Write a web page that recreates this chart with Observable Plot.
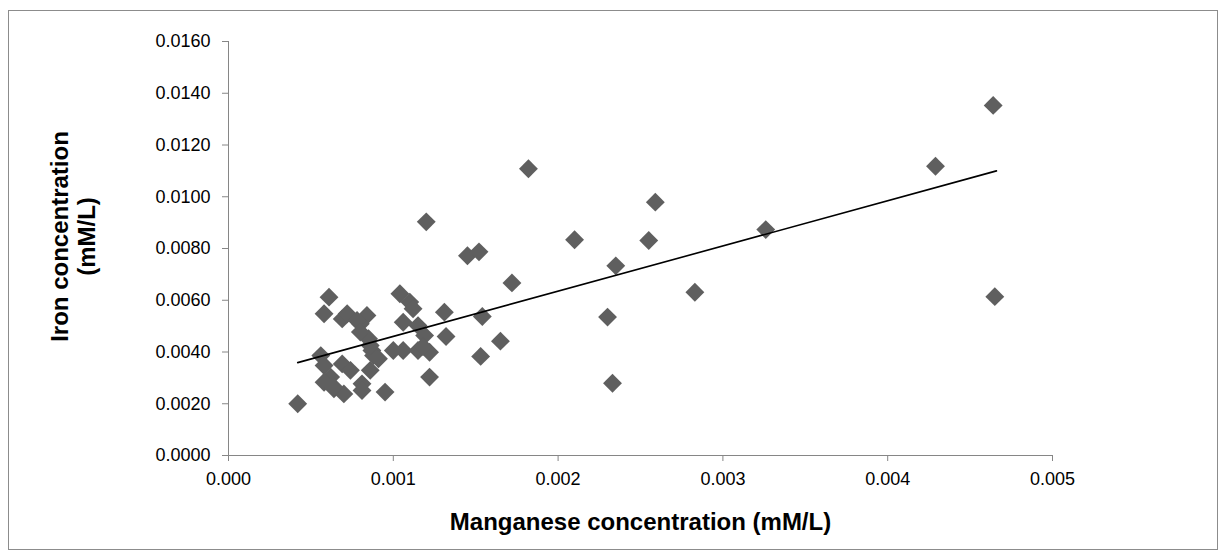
<!DOCTYPE html>
<html>
<head>
<meta charset="utf-8">
<script src="https://cdn.jsdelivr.net/npm/d3@7"></script>
<script src="https://cdn.jsdelivr.net/npm/@observablehq/plot@0.6"></script>
<style>
  html, body { margin: 0; padding: 0; background: #fff; }
  #wrap { position: relative; width: 1228px; height: 558px; }
  #border { position: absolute; left: 8px; top: 10px; width: 1210px; height: 540px; border: 1px solid #8c8c8c; box-sizing: border-box; pointer-events: none; }
  svg g[aria-label$="axis tick"] { stroke: #868686; }
</style>
</head>
<body>
<div id="wrap"><div id="border"></div></div>
<script>
// Manganese concentration (mM/L)
const mn = [
  0.00464, 0.00465, 0.00429, 0.00326, 0.00259, 0.00210, 0.00255, 0.00235,
  0.00283, 0.00230, 0.00233, 0.00182, 0.00120, 0.00145, 0.00152, 0.00172,
  0.00165, 0.00153, 0.00154, 0.00131, 0.00132, 0.00122,
  0.00061, 0.00104, 0.00110, 0.00112, 0.00058, 0.00069, 0.00072, 0.00084,
  0.00080, 0.00078, 0.00106, 0.00115, 0.00119, 0.00085, 0.00087, 0.00100,
  0.00106, 0.00115, 0.00122, 0.00118, 0.00056, 0.00091, 0.00088, 0.00058,
  0.00069, 0.00074, 0.00086, 0.00062, 0.00058, 0.00081, 0.00064, 0.00070,
  0.00081, 0.00095, 0.00042, 0.00086, 0.00080, 0.00064
];
// Iron concentration (mM/L)
const fe = [
  0.01353, 0.00614, 0.01118, 0.00873, 0.00979, 0.00834, 0.00831, 0.00733,
  0.00631, 0.00535, 0.00279, 0.01108, 0.00903, 0.00772, 0.00787, 0.00667,
  0.00442, 0.00383, 0.00537, 0.00554, 0.00460, 0.00303,
  0.00612, 0.00625, 0.00593, 0.00567, 0.00548, 0.00528, 0.00548, 0.00541,
  0.00509, 0.00522, 0.00515, 0.00502, 0.00464, 0.00451, 0.00406, 0.00406,
  0.00406, 0.00406, 0.00399, 0.00421, 0.00386, 0.00374, 0.00386, 0.00348,
  0.00354, 0.00329, 0.00329, 0.00303, 0.00283, 0.00277, 0.00258, 0.00238,
  0.00251, 0.00245, 0.00200, 0.00425, 0.00477, 0.00264
];
// Linear trend line endpoints
const trendX = [0.00042, 0.00466];
const trendY = [0.00359, 0.01100];
// Tick values
const xTicks = [0, 0.001, 0.002, 0.003, 0.004, 0.005];
const yTicks = [0, 0.002, 0.004, 0.006, 0.008, 0.010, 0.012, 0.014, 0.016];
const xTitle = "Manganese concentration (mM/L)";
const yTitle = "Iron concentration\n(mM/L)";

const points = mn.map((x, i) => ({x, y: fe[i]}));
const trend = trendX.map((x, i) => ({x, y: trendY[i]}));

const chart = Plot.plot({
  width: 1228,
  height: 558,
  marginLeft: 228,
  marginRight: 176,
  marginTop: 41,
  marginBottom: 103,
  style: {fontFamily: "'Liberation Sans', Arial, sans-serif", fontSize: "18px", color: "#000", background: "transparent"},
  x: {domain: [0, 0.005]},
  y: {domain: [0, 0.016]},
  marks: [
    Plot.axisY({ticks: yTicks, tickFormat: d3.format(".4f"), tickSize: 6, tickPadding: 12, label: null, fontSize: 18}),
    Plot.axisX({ticks: xTicks, tickFormat: d3.format(".3f"), tickSize: 6, tickPadding: 11, label: null, fontSize: 18}),
    Plot.ruleX([0], {stroke: "#868686"}),
    Plot.ruleY([0], {stroke: "#868686"}),
    Plot.dot(points, {x: "x", y: "y", symbol: "diamond2", r: 8.5, fill: "#5f5f5f", stroke: "none"}),
    Plot.line(trend, {x: "x", y: "y", stroke: "#000", strokeWidth: 1.6}),
    Plot.text([yTitle], {text: d => d, frameAnchor: "left", dx: -156, dy: -12, rotate: -90, textAnchor: "middle", fontWeight: "bold", fontSize: 24, lineAnchor: "middle", lineHeight: 1.15}),
    Plot.text([xTitle], {text: d => d, frameAnchor: "bottom", dy: 67, fontWeight: "bold", fontSize: 24, lineAnchor: "middle"})
  ]
});
document.getElementById("wrap").prepend(chart);
</script>
</body>
</html>
